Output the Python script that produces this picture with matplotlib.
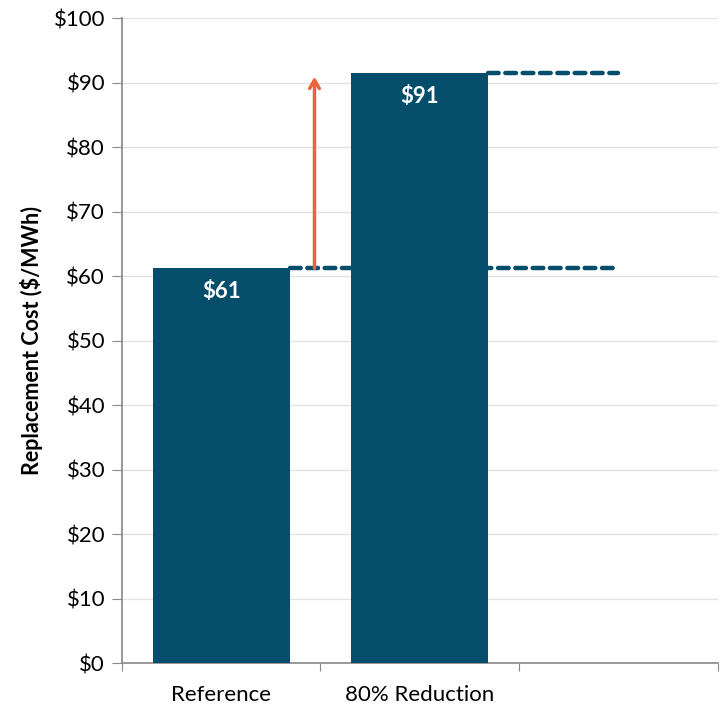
import matplotlib
matplotlib.use("Agg")
import matplotlib.pyplot as plt
import numpy as np

# replacement cost by scenario ($/MWh); third slot left empty
scenarios = ["Reference", "80% Reduction", ""]
costs = [61.2, 91.4]
y_ticks = list(range(0, 101, 10))

BAR = "#044d6b"
ARROW = "#e8643a"

plt.rcParams["font.family"] = ["Lato", "DejaVu Sans"]

fig = plt.figure(figsize=(7.25, 7.07), dpi=100)
ax = fig.add_axes([0.168, 0.0622, 0.822, 0.9123])

x = np.arange(len(scenarios))
ax.bar(x[:len(costs)], costs, width=0.69, color=BAR, zorder=3)
for xi, c in zip(x, costs):
    ax.text(xi, c - 2.0, f"${c:.0f}", ha="center", va="top", color="white",
            fontsize=16, fontweight="bold", zorder=4)

# dashed reference levels running out to the empty slot
for xi, c in zip(x, costs):
    ax.plot([xi + 0.345, 2.0], [c, c], color=BAR, lw=3.2, ls=(0, (2.4, 1.5)),
            dash_capstyle="round", zorder=3)

# increase arrow between the two levels
ax.annotate("", xy=(0.47, costs[1] - 0.5), xytext=(0.47, costs[0]),
            arrowprops=dict(arrowstyle="->,head_length=0.6,head_width=0.35",
                            color=ARROW, lw=2.5, shrinkA=0, shrinkB=0),
            zorder=4)

ax.set_xlim(-0.5, 2.5)
ax.set_ylim(0, 100)
ax.set_yticks(y_ticks)
ax.set_yticklabels([f"\\${v}" for v in y_ticks], fontsize=16)
ax.yaxis.grid(True, color="#e3e3e3", lw=1, zorder=0)

ax.set_xticks(np.arange(-0.5, 2.6, 1.0))
ax.set_xticklabels([])
ax.set_xticks(x, minor=True)
ax.set_xticklabels(scenarios, minor=True, fontsize=16)
ax.tick_params(axis="x", which="minor", length=0, pad=16)
ax.tick_params(axis="x", which="major", length=6, color="#888888", direction="out")
ax.tick_params(axis="y", length=7, color="#888888", pad=5)

ax.set_ylabel("Replacement Cost (\\$/MWh)", fontsize=15.5, fontweight="bold", labelpad=8)

for side in ("top", "right"):
    ax.spines[side].set_visible(False)
for side in ("left", "bottom"):
    ax.spines[side].set_color("#888888")
    ax.spines[side].set_linewidth(1.2)

fig.savefig("out.png", dpi=100)
